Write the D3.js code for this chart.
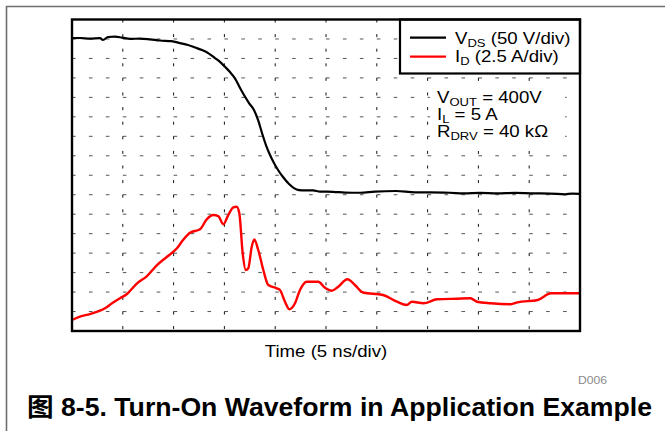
<!DOCTYPE html>
<html>
<head>
<meta charset="utf-8">
<script src="https://cdn.jsdelivr.net/npm/d3@7/dist/d3.min.js"></script>
<style>
  html, body { margin: 0; padding: 0; background: #fff; }
  svg { display: block; }
  text { font-family: "Liberation Sans", Arial, "Noto Sans CJK SC", sans-serif; }
</style>
</head>
<body>
<svg id="chart" width="665" height="431"></svg>
<script>
// ---- Data ----
// Time axis: 10 divisions of 5 ns
const timeRange = [0, 50];          // ns
const timeDivs = [0, 5, 10, 15, 20, 25, 30, 35, 40, 45, 50];

// V_DS trace (50 V/div)
const vdsTime = [0,0.79,1.77,2.76,3.05,3.54,4.23,4.92,5.71,6.69,7.68,8.66,9.79,10.63,11.42,12.1,12.8,13.48,14.07,14.57,15.06,15.55,16.04,16.54,16.93,17.42,17.91,18.31,18.7,19.09,19.49,19.88,20.28,20.77,21.36,21.85,22.34,22.93,23.72,24.41,25.69,26.87,28.35,29.82,31.89,33.76,35.24,37.2,38.58,40.16,41.83,43.6,45.18,47.05,48.52,49.21,50];
const vdsVolts = [402,402.5,401,402,397.5,405,406,403.5,400,401,399,396,394.5,389.5,384.5,378,371.5,362.5,351,341,328.5,315,299,274,256,235.5,217.5,192,158.5,127.5,102,81.5,63.5,45.5,27.5,17,12,11,11,8,7.5,5.5,5,8,9.5,6,6,5,3.5,4.5,3.5,4.5,3.5,3,1,3,2];

// I_D trace (2.5 A/div)
const idTime = [0,0.79,1.77,3.25,3.94,4.72,5.41,6.4,7.38,8.37,9.35,10.33,10.93,11.61,12.6,13.26,13.91,14.4,14.89,15.38,15.88,16.21,16.47,16.8,17.1,17.35,17.69,17.94,18.33,18.83,19.32,20.15,20.47,20.96,21.39,21.95,22.44,23.1,24.24,24.9,25.56,26.21,27.1,27.85,28.64,30.61,31.99,32.94,33.46,34.6,35.93,37.89,39.22,39.86,41.21,43.19,43.85,45.84,47.15,50];
const idAmps = [1.41,1.84,2.18,2.91,3.56,4.2,4.75,6.12,7.06,8.47,9.54,10.62,11.68,12.62,13.06,14.34,14.89,14.76,13.7,14.89,15.88,15.96,15.11,9.98,7.83,8.05,10.82,11.77,10.4,7.83,5.9,5.48,5.26,3.76,2.79,3.56,5.26,6.33,6.33,5.56,5.17,5.69,6.64,5.91,4.94,4.62,3.76,3.34,3.76,3.56,4.07,4.15,4.2,3.76,3.56,3.43,3.68,3.98,4.84,4.84];

// Vertical screen: 16 divisions
const vdsRange = [-350, 450];   // V  (50 V/div, 16 div)
const idRange = [0, 40];        // A  (2.5 A/div, 16 div)
const idDivs = d3.range(0, 40.01, 2.5);

const legendLabels = [
  { main: "V", sub: "DS", rest: " (50 V/div)", color: "#000" },
  { main: "I", sub: "D", rest: " (2.5 A/div)", color: "#ff0000" }
];
const conditionLabels = [
  { main: "V", sub: "OUT", rest: " = 400V" },
  { main: "I", sub: "L", rest: " = 5 A" },
  { main: "R", sub: "DRV", rest: " = 40 k\u03A9" }
];
const xAxisTitle = "Time (5 ns/div)";
const figId = "D006";
const caption = "图 8-5. Turn-On Waveform in Application Example";

// ---- Layout ----
const svg = d3.select("#chart");
const plot = { left: 72, right: 580, top: 19.5, bottom: 331 };
const SX = 1.165; // horizontal stretch of the reference text

const x = d3.scaleLinear().domain(timeRange).range([plot.left, plot.right]);
const yV = d3.scaleLinear().domain(vdsRange).range([plot.bottom, plot.top]);
const yI = d3.scaleLinear().domain(idRange).range([plot.bottom, plot.top]);

// outer frame
svg.append("path")
  .attr("d", `M6.5,431 L6.5,6.5 L665,6.5`)
  .attr("fill", "none").attr("stroke", "#6e6e6e").attr("stroke-width", 1.6);

// grid
const grid = svg.append("g");
grid.selectAll("line.h").data(idDivs.slice(1, -1)).join("line")
  .attr("x1", plot.left).attr("x2", plot.right)
  .attr("y1", d => yI(d)).attr("y2", d => yI(d))
  .attr("stroke", "#555").attr("stroke-width", 1)
  .attr("stroke-dasharray", `3.6 ${(x(5) - x(0)) / 3 - 3.6}`);
grid.selectAll("line.v").data(timeDivs.slice(1, -1)).join("line")
  .attr("x1", d => x(d)).attr("x2", d => x(d))
  .attr("y1", plot.top).attr("y2", plot.bottom)
  .attr("stroke", "#111").attr("stroke-width", 1)
  .attr("stroke-dasharray", "3 11.6");

// white panel behind conditions text
svg.append("rect")
  .attr("x", 430).attr("y", 82).attr("width", 135).attr("height", 69)
  .attr("fill", "#fff");

// traces
svg.append("clipPath").attr("id", "clip").append("rect")
  .attr("x", plot.left).attr("y", plot.top)
  .attr("width", plot.right - plot.left).attr("height", plot.bottom - plot.top);

const vdsData = vdsTime.map((t, i) => [t, vdsVolts[i]]);
const idData = idTime.map((t, i) => [t, idAmps[i]]);

const traces = svg.append("g").attr("clip-path", "url(#clip)");
traces.append("path")
  .datum(vdsData)
  .attr("d", d3.line().x(d => x(d[0])).y(d => yV(d[1])).curve(d3.curveMonotoneX))
  .attr("fill", "none").attr("stroke", "#000").attr("stroke-width", 2.2)
  .attr("stroke-linejoin", "round");
traces.append("path")
  .datum(idData)
  .attr("d", d3.line().x(d => x(d[0])).y(d => yI(d[1])).curve(d3.curveMonotoneX))
  .attr("fill", "none").attr("stroke", "#ff0000").attr("stroke-width", 2.4)
  .attr("stroke-linejoin", "round");

// helper for text with subscript
function subText(parent, tx, ty, item, size) {
  const t = parent.append("text")
    .attr("transform", `translate(${tx},${ty}) scale(${SX},1)`)
    .attr("font-size", size).attr("fill", "#000");
  t.append("tspan").text(item.main);
  t.append("tspan").attr("font-size", size * 0.7).attr("dy", 3).text(item.sub);
  t.append("tspan").attr("dy", -3).text(item.rest);
  return t;
}

// conditions text
conditionLabels.forEach((c, i) => subText(svg, 437, 103 + i * 17, c, 16));

// legend
const lg = svg.append("g");
lg.append("rect")
  .attr("x", 400).attr("y", plot.top).attr("width", plot.right - 400).attr("height", 54)
  .attr("fill", "#fff").attr("stroke", "#000").attr("stroke-width", 2.2);
legendLabels.forEach((l, i) => {
  const ly = 37.7 + i * 19;
  lg.append("line").attr("x1", 410).attr("x2", 446).attr("y1", ly).attr("y2", ly)
    .attr("stroke", l.color).attr("stroke-width", 2.2);
  subText(lg, 455, 43.5 + i * 18.5, l, 16);
});

// plot border
svg.append("rect")
  .attr("x", plot.left).attr("y", plot.top)
  .attr("width", plot.right - plot.left).attr("height", plot.bottom - plot.top)
  .attr("fill", "none").attr("stroke", "#000").attr("stroke-width", 2.4);

// axis title
svg.append("text")
  .attr("transform", `translate(${x(25)},357) scale(${SX},1)`)
  .attr("text-anchor", "middle").attr("font-size", 16).attr("fill", "#000")
  .text(xAxisTitle);

// figure id
svg.append("text")
  .attr("x", 578).attr("y", 384)
  .attr("font-size", 11).attr("fill", "#8a8a8a")
  .attr("textLength", 29).attr("lengthAdjust", "spacingAndGlyphs")
  .text(figId);

// caption
svg.append("text")
  .attr("x", 27).attr("y", 415.5)
  .attr("font-size", 25).attr("font-weight", "bold").attr("fill", "#000")
  .attr("textLength", 625).attr("lengthAdjust", "spacingAndGlyphs")
  .text(caption);
</script>
</body>
</html>
